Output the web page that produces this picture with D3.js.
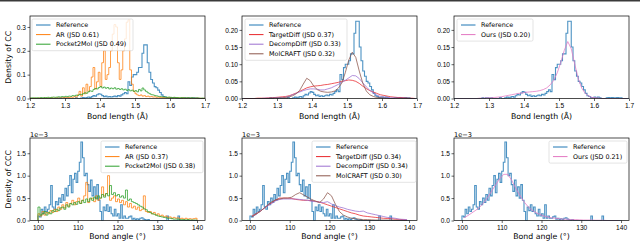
<!DOCTYPE html>
<html lang="en">
<head>
<meta charset="UTF-8" />
<script src="https://cdn.jsdelivr.net/npm/d3@7"></script>
<style>
  body { margin: 0; background: #fff; }
  svg { display: block; font-family: "DejaVu Sans", sans-serif; }
  .tick text { font-size: 6.6px; fill: #000; }
  .axis-label { font-size: 7.8px; fill: #000; }
  .legend text { font-size: 6.4px; fill: #000; }
</style>
</head>
<body>
<svg id="chart" width="640" height="243"></svg>
<script>
// ---- bond length (Å), bins of 0.005 starting at 1.20 ----
const lenStart = 1.2, lenBin = 0.005;
const lenRef = [
  0,0,0,0,0,0,0,0,0,0, 0,0,0,0,0,0,0.002,0,0.002,0.002,
  0,0.002,0,0,0,0,0.003,0,0,0.002, 0.004,0.002,0.004,0.006,0.004,0.008,0.012,0.01,0.016,0.02,
  0.018,0.012,0.008,0.01,0.006,0.008,0.006,0.008,0.01,0.008, 0.012,0.01,0.015,0.02,0.025,0.02,0.07,0.055,0.09,0.1,
  0.1,0.11,0.13,0.13,0.19,0.225,0.225,0.15,0.11,0.08, 0.065,0.05,0.045,0.035,0.025,0.015,0.008,0.006,0.003,0.002,
  0.004,0.002,0.004,0.002,0,0,0,0.002,0.003,0.002, 0.003,0.002,0.002,0.003,0.002,0.002,0,0,0,0
];
const lenAR = [
  0.001,0,0.002,0,0.001,0.002,0,0.001,0.002,0.001, 0.002,0,0.003,0.001,0.002,0.003,0.001,0.003,0.002,0.004,
  0.003,0.005,0.004,0.006,0.005,0.008,0.006,0.015,0.03,0.01, 0.045,0.02,0.06,0.03,0.05,0.09,0.13,0.04,0.07,0.11,
  0.05,0.15,0.2,0.08,0.1,0.13,0.2,0.27,0.31,0.3, 0.15,0.08,0.12,0.2,0.25,0.32,0.33,0.12,0.06,0.03,
  0.02,0.015,0.012,0.015,0.01,0.012,0.008,0.01,0.007,0.008, 0.006,0.007,0.005,0.006,0.004,0.005,0.004,0.003,0.004,0.003,
  0.003,0.002,0.003,0.002,0.003,0.002,0.002,0.003,0.001,0.002, 0.002,0.001,0.002,0.001,0.001,0.002,0.001,0.001,0,0.001
];
const lenP2M = [
  0.002,0.003,0.002,0.003,0.003,0.002,0.004,0.003,0.004,0.004, 0.005,0.004,0.005,0.006,0.005,0.006,0.007,0.006,0.008,0.007,
  0.009,0.008,0.01,0.009,0.012,0.011,0.014,0.013,0.017,0.016, 0.02,0.024,0.022,0.028,0.032,0.03,0.038,0.042,0.04,0.046,
  0.05,0.044,0.048,0.043,0.046,0.04,0.044,0.041,0.045,0.039, 0.042,0.038,0.041,0.036,0.039,0.034,0.037,0.032,0.035,0.03,
  0.033,0.028,0.038,0.032,0.044,0.036,0.03,0.024,0.02,0.016, 0.015,0.012,0.011,0.009,0.008,0.007,0.007,0.006,0.005,0.006,
  0.005,0.004,0.005,0.004,0.004,0.003,0.004,0.003,0.003,0.002, 0.003,0.002,0.003,0.002,0.002,0.002,0.002,0.001,0.002,0.001
];
// smoother models, bins of 0.01 starting at 1.20
const lenBin2 = 0.01;
const lenTD = [
  0,0,0,0,0.001,0.001,0.001,0.002,0.002,0.003,
  0.004,0.005,0.006,0.008,0.012,0.016,0.021,0.026,0.031,0.034,
  0.036,0.037,0.038,0.04,0.041,0.043,0.045,0.047,0.05,0.052,
  0.054,0.053,0.05,0.044,0.036,0.029,0.023,0.019,0.015,0.011,
  0.009,0.007,0.005,0.004,0.003,0.003,0.002,0.001,0.001,0
];
const lenDD = [
  0,0,0,0,0,0,0.001,0.001,0.001,0.002,
  0.002,0.003,0.004,0.007,0.011,0.015,0.019,0.023,0.026,0.028,
  0.028,0.027,0.025,0.025,0.028,0.031,0.036,0.041,0.047,0.053,
  0.06,0.067,0.066,0.058,0.046,0.034,0.024,0.016,0.01,0.006,
  0.004,0.003,0.002,0.002,0.001,0.001,0.001,0,0,0
];
const lenMC = [
  0,0,0,0,0,0,0,0,0.001,0.001,
  0.001,0.002,0.003,0.005,0.008,0.014,0.024,0.042,0.059,0.052,
  0.036,0.026,0.021,0.019,0.018,0.019,0.022,0.03,0.045,0.075,
  0.112,0.135,0.12,0.08,0.045,0.022,0.011,0.006,0.003,0.002,
  0.001,0,0,0,0,0,0,0,0,0
];
const lenOurs = [
  0,0,0,0,0,0,0,0.001,0.001,0.002,
  0.002,0.003,0.004,0.005,0.007,0.009,0.011,0.013,0.015,0.016,
  0.018,0.019,0.02,0.021,0.023,0.026,0.031,0.04,0.053,0.075,
  0.105,0.14,0.166,0.145,0.1,0.058,0.03,0.015,0.007,0.003,
  0.002,0.001,0,0,0,0,0,0,0,0
];

// ---- bond angle (°), values in units of 1e-3 ----
const angStart = 100;
const angBinRef = 0.4;
const angRef = [
  0.1,0.08,0.25,0.15,0.3,0.2,0.25,0.35,0.78,0.3,
  0.25,0.42,0.35,0.5,0.4,0.58,0.45,0.72,0.55,0.78,
  1.0,0.62,0.92,1.05,0.85,1.1,1.3,1.75,1.4,1.0,
  1.05,0.8,0.65,0.9,0.55,0.75,0.5,0.8,0.45,0.2,
  0,0.3,0.22,0.35,0.2,0.3,0.15,0.1,0.25,0.1,
  0.15,0.05,0.35,0.05,0.1,0.05,0.05,0.08,0.1,0.03,
  0.05,0.02,0.04,0.02,0.05,0.06,0.03,0.02,0,0.02,
  0,0,0,0,0,0,0,0,0,0,
  0,0.1,0,0,0,0,0,0,0.1,0,
  0,0,0,0,0,0,0,0,0,0
];
const angBinNoisy = 0.5;
const angAR = [
  0.15,0.1,0.2,0.12,0.18,0.15,0.22,0.18,0.25,0.2,
  0.3,0.25,0.35,0.28,0.4,0.32,0.38,0.45,0.35,0.42,
  0.5,0.38,0.45,0.55,0.85,0.4,0.48,0.5,0.42,0.55,
  0.45,0.5,0.75,0.55,0.6,1.0,0.45,0.5,0.55,0.42,
  0.48,0.4,0.45,0.35,0.42,0.3,0.38,0.28,0.32,0.25,
  0.3,0.22,0.25,0.55,0.2,0.18,0.2,0.15,0.18,0.12,
  0.15,0.1,0.12,0.08,0.1,0.07,0.08,0.05,0.07,0.05,
  0.06,0.04,0.05,0.03,0.05,0.03,0.04,0.03,0.04,0.05
];
const angP2M = [
  0.3,0.12,0.15,0.2,0.12,0.18,0.15,0.22,0.2,0.25,
  0.22,0.28,0.3,0.25,0.35,0.3,0.38,0.35,0.4,0.36,
  0.42,0.38,0.45,0.4,0.48,0.42,0.5,0.45,0.52,0.48,
  0.55,0.5,0.58,0.52,0.6,0.55,0.78,0.58,0.62,0.55,
  0.58,0.52,0.55,0.5,0.68,0.45,0.48,0.42,0.4,0.38,
  0.35,0.32,0.3,0.26,0.24,0.2,0.18,0.15,0.14,0.12,
  0.1,0.09,0.08,0.07,0.06,0.05,0.05,0.04,0.03,0.03,
  0.03,0.02,0.02,0.02,0.01,0.02,0.01,0.01,0.01,0.01
];
const angBinSmooth = 1;
const angTD = [
  0.1,0.15,0.2,0.27,0.34,0.4,0.46,0.5,0.5,0.5,
  0.49,0.47,0.46,0.45,0.45,0.44,0.43,0.41,0.38,0.35,
  0.32,0.29,0.26,0.23,0.2,0.17,0.15,0.12,0.1,0.09,
  0.08,0.07,0.06,0.05,0.045,0.04,0.03,0.025,0.02,0.01
];
const angDD = [
  0.08,0.13,0.2,0.27,0.33,0.38,0.44,0.47,0.48,0.48,
  0.48,0.48,0.47,0.46,0.45,0.43,0.42,0.41,0.4,0.42,
  0.37,0.33,0.3,0.28,0.25,0.23,0.21,0.2,0.21,0.17,
  0.15,0.13,0.11,0.09,0.07,0.06,0.05,0.03,0.025,0.02
];
const angMC = [
  0.08,0.14,0.2,0.27,0.35,0.42,0.46,0.48,0.5,0.5,
  0.52,0.58,0.62,0.57,0.52,0.47,0.43,0.4,0.48,0.62,
  0.55,0.36,0.2,0.12,0.08,0.05,0.04,0.03,0.02,0.02,
  0.015,0.01,0.01,0.01,0.01,0.005,0.005,0,0,0
];
const angOurs = [
  0.06,0.11,0.17,0.23,0.3,0.4,0.52,0.66,0.8,0.93,
  1.03,1.03,0.9,0.72,0.57,0.43,0.32,0.24,0.18,0.14,
  0.1,0.08,0.06,0.05,0.04,0.03,0.03,0.02,0.02,0.015,
  0.01,0.01,0.01,0.005,0.005,0.005,0,0,0,0
];

const lenTicks = [1.2, 1.3, 1.4, 1.5, 1.6, 1.7];
const angTicks = [100, 110, 120, 130, 140];
const ccTicksA = [0, 0.1, 0.2, 0.3];
const ccTicksB = [0, 0.05, 0.1, 0.15, 0.2];
const cccTicks = [0, 0.5, 1.0, 1.5];

const C = {
  ref: '#1f77b4', ar: '#ff7f0e', p2m: '#2ca02c', td: '#e8262b',
  dd: '#9b6fd0', mc: '#8c564b', ours: '#e377c2'
};

const svg = d3.select('#chart');
svg.append('rect').attr('width', 640).attr('height', 243).attr('fill', '#fff');
svg.append('rect').attr('width', 640).attr('height', 1.5).attr('fill', '#3a3a3a');

const pw = 175, ph = 82.5;
const colX = [30, 242, 454];
const rowY = [16, 138];
const xLabelGap = [20.5, 18.3];

const ser = (label, color, start, bin, values, kind) => ({ label, color, start, bin, values, kind });

const refLen = ser('Reference', C.ref, lenStart, lenBin, lenRef, 'step');
const refAng = ser('Reference', C.ref, angStart, angBinRef, angRef, 'step');

const panels = [
  { col: 0, row: 0, x: [1.2, 1.7], xt: lenTicks, xf: '.1f', y: [0, 0.346], yt: ccTicksA, yf: '.1f',
    xlabel: 'Bond length (Å)', ylabel: 'Density of CC', leg: [2, 3, 101],
    series: [refLen,
      ser('AR (JSD 0.61)', C.ar, lenStart, lenBin, lenAR, 'step'),
      ser('Pocket2Mol (JSD 0.49)', C.p2m, lenStart, lenBin, lenP2M, 'step')] },
  { col: 1, row: 0, x: [1.2, 1.7], xt: lenTicks, xf: '.1f', y: [0, 0.2405], yt: ccTicksB, yf: '.2f',
    xlabel: 'Bond length (Å)', leg: [3, 3, 102],
    series: [refLen,
      ser('TargetDiff (JSD 0.37)', C.td, lenStart, lenBin2, lenTD, 'line'),
      ser('DecompDiff (JSD 0.33)', C.dd, lenStart, lenBin2, lenDD, 'line'),
      ser('MolCRAFT (JSD 0.32)', C.mc, lenStart, lenBin2, lenMC, 'line')] },
  { col: 2, row: 0, x: [1.2, 1.7], xt: lenTicks, xf: '.1f', y: [0, 0.2405], yt: ccTicksB, yf: '.2f',
    xlabel: 'Bond length (Å)', leg: [3, 3, 76],
    series: [refLen,
      ser('Ours (JSD 0.20)', C.ours, lenStart, lenBin2, lenOurs, 'line')] },
  { col: 0, row: 1, x: [98, 142], xt: angTicks, xf: 'd', y: [0, 1.84], yt: cccTicks, yf: '.1f', offset: true,
    xlabel: 'Bond angle (°)', ylabel: 'Density of CCC', leg: [71, 3, 102],
    series: [refAng,
      ser('AR (JSD 0.37)', C.ar, angStart, angBinNoisy, angAR, 'step'),
      ser('Pocket2Mol (JSD 0.38)', C.p2m, angStart, angBinNoisy, angP2M, 'step')] },
  { col: 1, row: 1, x: [98, 142], xt: angTicks, xf: 'd', y: [0, 1.84], yt: cccTicks, yf: '.1f', offset: true,
    xlabel: 'Bond angle (°)', leg: [70, 3, 104],
    series: [refAng,
      ser('TargetDiff (JSD 0.34)', C.td, angStart, angBinSmooth, angTD, 'line'),
      ser('DecompDiff (JSD 0.34)', C.dd, angStart, angBinSmooth, angDD, 'line'),
      ser('MolCRAFT (JSD 0.30)', C.mc, angStart, angBinSmooth, angMC, 'line')] },
  { col: 2, row: 1, x: [98, 142], xt: angTicks, xf: 'd', y: [0, 1.84], yt: cccTicks, yf: '.1f', offset: true,
    xlabel: 'Bond angle (°)', leg: [95, 3, 78],
    series: [refAng,
      ser('Ours (JSD 0.21)', C.ours, angStart, angBinSmooth, angOurs, 'line')] }
];

panels.forEach((p, pi) => {
  const g = svg.append('g').attr('transform', `translate(${colX[p.col]},${rowY[p.row]})`);
  const x = d3.scaleLinear().domain(p.x).range([0, pw]);
  const y = d3.scaleLinear().domain(p.y).range([ph, 0]);

  const clipId = 'clip' + pi;
  g.append('clipPath').attr('id', clipId)
    .append('rect').attr('width', pw).attr('height', ph);

  const plot = g.append('g').attr('clip-path', `url(#${clipId})`);

  p.series.forEach((s, si) => {
    let pts;
    if (s.kind === 'step') {
      pts = [[s.start, 0]];
      s.values.forEach((v, i) => pts.push([s.start + i * s.bin, v]));
      pts.push([s.start + s.values.length * s.bin, 0]);
    } else {
      pts = s.values.map((v, i) => [s.start + (i + 0.5) * s.bin, v]);
    }
    const line = d3.line()
      .x(d => x(d[0])).y(d => y(d[1]))
      .curve(s.kind === 'step' ? d3.curveStepAfter : d3.curveLinear);
    plot.append('path')
      .attr('d', line(pts))
      .attr('fill', 'none')
      .attr('stroke', s.color)
      .attr('stroke-width', si === 0 ? 1.1 : 0.9)
      .attr('stroke-opacity', si === 0 ? 0.8 : 0.85);
  });

  const xAxis = d3.axisBottom(x).tickValues(p.xt).tickFormat(d3.format(p.xf))
    .tickSize(2.5).tickPadding(2);
  const yAxis = d3.axisLeft(y).tickValues(p.yt).tickFormat(d3.format(p.yf))
    .tickSize(2.5).tickPadding(1.5);

  const xg = g.append('g').attr('transform', `translate(0,${ph})`).call(xAxis);
  const yg = g.append('g').call(yAxis);
  [xg, yg].forEach(a => {
    a.select('.domain').remove();
    a.selectAll('.tick line').attr('stroke', '#000').attr('stroke-width', 0.6);
    a.selectAll('.tick text').attr('font-family', null).attr('font-size', null);
  });
  g.append('rect').attr('width', pw).attr('height', ph)
    .attr('fill', 'none').attr('stroke', '#000').attr('stroke-width', 0.7);

  g.append('text').attr('class', 'axis-label')
    .attr('x', pw / 2).attr('y', ph + xLabelGap[p.row])
    .attr('text-anchor', 'middle').text(p.xlabel);

  if (p.ylabel) {
    g.append('text').attr('class', 'axis-label')
      .attr('transform', `translate(${-19.5},${ph / 2}) rotate(-90)`)
      .attr('text-anchor', 'middle').text(p.ylabel);
  }
  if (p.offset) {
    g.append('text').attr('class', 'tick')
      .attr('x', 0).attr('y', -1.5)
      .append('tspan').style('font-size', '6.6px').text('1e\u22123');
  }

  // legend
  const [lx, ly, lw] = p.leg;
  const rowH = 9.6;
  const lh = 12.5 + (p.series.length - 1) * rowH;
  const lg = g.append('g').attr('class', 'legend').attr('transform', `translate(${lx},${ly})`);
  lg.append('rect').attr('width', lw).attr('height', lh).attr('rx', 1.5)
    .attr('fill', '#fff').attr('fill-opacity', 0.8)
    .attr('stroke', '#d0d0d0').attr('stroke-width', 0.6);
  p.series.forEach((s, i) => {
    const cy = 6 + i * rowH;
    lg.append('line').attr('x1', 4).attr('x2', 18.5).attr('y1', cy).attr('y2', cy)
      .attr('stroke', s.color).attr('stroke-width', 1);
    lg.append('text').attr('x', 24).attr('y', cy).attr('dy', '0.35em').text(s.label);
  });
});
</script>
</body>
</html>
